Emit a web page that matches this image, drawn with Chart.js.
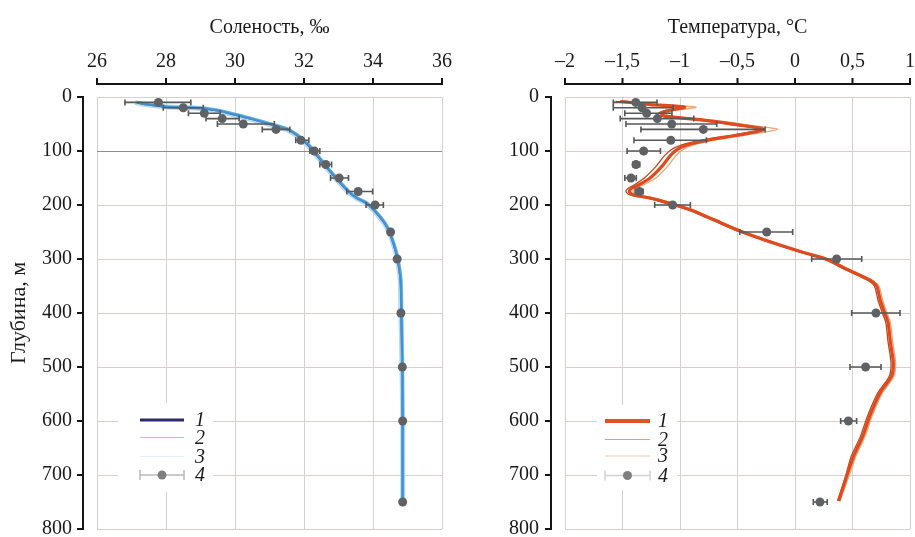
<!DOCTYPE html>
<html lang="ru">
<head>
<meta charset="utf-8">
<script src="https://cdn.jsdelivr.net/npm/chart.js@4.4.1/dist/chart.umd.min.js"></script>
<style>
    html, body { margin: 0; padding: 0; background: #fff; }
    body { width: 915px; height: 537px; position: relative; overflow: hidden; }
    #salChart { position: absolute; left: 0; top: 0; }
    #tempChart { position: absolute; left: 465px; top: 0; }
</style>
</head>
<body>
<canvas id="salChart" width="460" height="541"></canvas>
<canvas id="tempChart" width="450" height="541"></canvas>
<script>
// salinity, model profiles 1-3
const salLineDepth = [10, 13, 15, 18, 20, 22, 25, 32, 41, 51, 61, 72, 77, 96, 123, 151, 176, 188, 197, 222, 246, 277, 299, 339, 400, 500, 600, 750];
const salLine1 = [27.15, 27.35, 27.6, 28.0, 28.7, 29.2, 29.5, 29.95, 30.5, 31.05, 31.55, 31.82, 31.92, 32.22, 32.56, 32.94, 33.3, 33.55, 33.82, 34.2, 34.45, 34.62, 34.71, 34.8, 34.82, 34.85, 34.86, 34.86];
const salLine2 = [27.2, 27.4, 27.65, 28.05, 28.75, 29.25, 29.55, 30.0, 30.55, 31.1, 31.58, 31.85, 31.95, 32.25, 32.58, 32.96, 33.32, 33.57, 33.84, 34.22, 34.46, 34.63, 34.72, 34.81, 34.83, 34.85, 34.86, 34.86];
const salLine3 = [27.1, 27.3, 27.55, 27.95, 28.65, 29.15, 29.45, 29.9, 30.45, 31.0, 31.52, 31.8, 31.9, 32.2, 32.54, 32.92, 33.28, 33.53, 33.8, 34.18, 34.44, 34.61, 34.7, 34.79, 34.81, 34.84, 34.86, 34.86];

// salinity, observations 4 (mean and spread)
const salObsDepth = [10, 20, 30, 40, 50, 60, 80, 100, 125, 150, 175, 200, 250, 300, 400, 500, 600, 750];
const salObs = [27.78, 28.5, 29.11, 29.63, 30.24, 31.19, 31.91, 32.3, 32.63, 33.02, 33.57, 34.06, 34.51, 34.7, 34.81, 34.85, 34.86, 34.86];
const salObsLow = [26.81, 27.92, 28.65, 29.16, 29.49, 30.79, 31.76, 32.17, 32.46, 32.77, 33.24, 33.8, 34.51, 34.7, 34.81, 34.85, 34.86, 34.86];
const salObsHigh = [28.72, 29.08, 29.57, 30.12, 31.14, 31.59, 32.14, 32.46, 32.8, 33.29, 33.99, 34.3, 34.51, 34.7, 34.81, 34.85, 34.86, 34.86];

// temperature, model profiles 1-3
const tempLineDepth = [8, 14, 19, 26, 32, 36, 42, 52, 60, 70, 79, 89, 98, 110, 129, 150, 163, 169, 175, 181, 187, 197, 209, 227, 248, 270, 289, 300, 319, 338, 350, 375, 400, 418, 455, 492, 517, 548, 591, 628, 665, 702, 748];
const tempLine1 = [-1.52, -1.26, -0.96, -1.12, -1.16, -1.12, -0.83, -0.48, -0.27, -0.48, -0.74, -0.94, -1.03, -1.09, -1.16, -1.26, -1.36, -1.42, -1.44, -1.41, -1.26, -1.09, -0.91, -0.71, -0.48, -0.19, 0.09, 0.27, 0.45, 0.64, 0.71, 0.74, 0.78, 0.81, 0.83, 0.855, 0.84, 0.74, 0.65, 0.59, 0.51, 0.45, 0.38];
const tempLine2 = [-1.56, -1.3, -1.0, -1.15, -1.2, -1.16, -0.88, -0.53, -0.31, -0.53, -0.79, -0.99, -1.08, -1.14, -1.21, -1.31, -1.4, -1.45, -1.47, -1.44, -1.3, -1.12, -0.93, -0.73, -0.5, -0.21, 0.07, 0.25, 0.43, 0.62, 0.69, 0.72, 0.76, 0.79, 0.81, 0.835, 0.82, 0.72, 0.63, 0.57, 0.49, 0.44, 0.37];
const tempLine3 = [-1.48, -1.2, -0.86, -1.08, -1.12, -1.07, -0.76, -0.4, -0.15, -0.42, -0.68, -0.89, -0.98, -1.04, -1.11, -1.21, -1.32, -1.39, -1.41, -1.38, -1.22, -1.06, -0.89, -0.69, -0.46, -0.17, 0.11, 0.29, 0.47, 0.66, 0.73, 0.76, 0.8, 0.83, 0.85, 0.875, 0.86, 0.76, 0.67, 0.61, 0.53, 0.47, 0.39];

// temperature, observations 4
const tempObsDepth = [10, 20, 30, 40, 50, 60, 80, 100, 125, 150, 175, 200, 250, 300, 400, 500, 600, 750];
const tempObs = [-1.385, -1.33, -1.29, -1.197, -1.072, -0.797, -1.08, -1.316, -1.383, -1.426, -1.354, -1.064, -0.246, 0.362, 0.704, 0.614, 0.464, 0.217];
const tempObsLow = [-1.58, -1.58, -1.48, -1.52, -1.47, -1.34, -1.4, -1.46, -1.41, -1.48, -1.39, -1.22, -0.48, 0.145, 0.493, 0.478, 0.397, 0.159];
const tempObsHigh = [-1.2, -1.06, -1.07, -0.88, -0.68, -0.26, -0.77, -1.17, -1.35, -1.38, -1.32, -0.91, -0.02, 0.58, 0.913, 0.748, 0.536, 0.28];

const serif = "'Liberation Serif', 'Times New Roman', serif";
const gridColor = "#d6d0cc";

function points(xs, ys) {
    return xs.map((x, i) => ({ x: x, y: ys[i] }));
}

function commaLabel(value) {
    return String(Math.round(value * 10) / 10).replace(".", ",").replace("-", "\u2013");
}

// offset axis lines (drawn apart from the plot, as in the figure)
const frameAxes = {
    id: "frameAxes",
    afterDraw(chart) {
        const ctx = chart.ctx;
        const xs = chart.scales.x;
        const ys = chart.scales.y;
        const area = chart.chartArea;
        ctx.save();
        ctx.strokeStyle = "#151515";
        ctx.lineWidth = 2;
        const ax = area.top - 13;
        ctx.beginPath();
        ctx.moveTo(xs.getPixelForValue(xs.min), ax);
        ctx.lineTo(xs.getPixelForValue(xs.max), ax);
        xs.ticks.forEach(t => {
            const px = xs.getPixelForValue(t.value);
            ctx.moveTo(px, ax + 1);
            ctx.lineTo(px, ax - 6);
        });
        const ay = area.left - 14;
        ctx.moveTo(ay, ys.getPixelForValue(ys.min));
        ctx.lineTo(ay, ys.getPixelForValue(ys.max));
        ys.ticks.forEach(t => {
            const py = ys.getPixelForValue(t.value);
            ctx.moveTo(ay + 1, py);
            ctx.lineTo(ay - 6, py);
        });
        ctx.stroke();
        ctx.restore();
    }
};

// horizontal error bars under the observation dots (dataset 0)
const errorBars = {
    id: "errorBars",
    beforeDatasetDraw(chart, args) {
        if (args.index !== 0) {
            return;
        }
        const ds = chart.data.datasets[0];
        const ctx = chart.ctx;
        const xs = chart.scales.x;
        const ys = chart.scales.y;
        ctx.save();
        ctx.strokeStyle = "#575757";
        ctx.lineWidth = 1.6;
        ds.data.forEach((p, i) => {
            const lo = xs.getPixelForValue(ds.errLow[i]);
            const hi = xs.getPixelForValue(ds.errHigh[i]);
            if (hi - lo < 2) {
                return;
            }
            const py = ys.getPixelForValue(p.y);
            ctx.beginPath();
            ctx.moveTo(lo, py);
            ctx.lineTo(hi, py);
            ctx.moveTo(lo, py - 3);
            ctx.lineTo(lo, py + 3);
            ctx.moveTo(hi, py - 3);
            ctx.lineTo(hi, py + 3);
            ctx.stroke();
        });
        ctx.restore();
    }
};

// legend box inside the plot
const boxLegend = {
    id: "boxLegend",
    afterDraw(chart, args, opts) {
        const ctx = chart.ctx;
        const a = chart.chartArea;
        const b = opts.box;
        ctx.save();
        ctx.fillStyle = "#ffffff";
        ctx.fillRect(a.left + b[0], a.top + b[1], b[2], b[3]);
        ctx.font = "italic 20px " + serif;
        ctx.textBaseline = "middle";
        opts.items.forEach(item => {
            const y = a.top + item.y;
            const x0 = a.left + opts.lineX[0];
            const x1 = a.left + opts.lineX[1];
            if (item.bar) {
                ctx.strokeStyle = item.bar;
                ctx.lineWidth = 1.5;
                ctx.beginPath();
                ctx.moveTo(x0, y);
                ctx.lineTo(x1, y);
                ctx.moveTo(x0, y - 5);
                ctx.lineTo(x0, y + 5);
                ctx.moveTo(x1, y - 5);
                ctx.lineTo(x1, y + 5);
                ctx.stroke();
                ctx.fillStyle = item.color;
                ctx.beginPath();
                ctx.arc((x0 + x1) / 2, y, 4.5, 0, Math.PI * 2);
                ctx.fill();
            } else {
                ctx.strokeStyle = item.color;
                ctx.lineWidth = item.width;
                ctx.beginPath();
                ctx.moveTo(x0, y);
                ctx.lineTo(x1, y);
                ctx.stroke();
            }
            ctx.fillStyle = "#1a1a1a";
            ctx.fillText(item.label, a.left + opts.textX, y + 1);
        });
        ctx.restore();
    }
};

// tick marks are kept invisible; their length only places the labels
function depthScale(withTitle, width, gap) {
    return {
        type: "linear",
        reverse: true,
        min: 0,
        max: 800,
        ticks: { stepSize: 100, padding: 0, color: "#1a1a1a", font: { family: serif, size: 20 } },
        grid: {
            color: ctx => (withTitle && ctx.tick && ctx.tick.value === 100) ? "#8f8f8f" : gridColor,
            drawTicks: true,
            tickLength: gap,
            tickColor: "rgba(0,0,0,0)"
        },
        border: { display: false },
        title: {
            display: withTitle,
            text: "Глубина, м",
            color: "#1a1a1a",
            font: { family: serif, size: 22 },
            padding: { top: 6, bottom: 0 }
        },
        afterFit: s => { s.width = width; }
    };
}

function valueScale(min, max, step, title) {
    return {
        type: "linear",
        position: "top",
        min: min,
        max: max,
        ticks: {
            stepSize: step,
            padding: 0,
            color: "#1a1a1a",
            font: { family: serif, size: 20 },
            callback: v => commaLabel(v)
        },
        grid: { color: gridColor, drawTicks: true, tickLength: 23, tickColor: "rgba(0,0,0,0)" },
        border: { display: false },
        title: {
            display: true,
            text: title,
            color: "#1a1a1a",
            font: { family: serif, size: 20 },
            padding: { top: 16, bottom: 0 }
        },
        afterFit: s => { s.height = 97; }
    };
}

function obsDataset(xs, ys, lo, hi) {
    return {
        type: "scatter",
        data: points(xs, ys),
        errLow: lo,
        errHigh: hi,
        pointRadius: 4.5,
        pointBackgroundColor: "#5f6264",
        pointBorderWidth: 0,
        showLine: false
    };
}

function lineDataset(xs, ys, color, width) {
    return {
        type: "line",
        data: points(xs, ys),
        borderColor: color,
        borderWidth: width,
        pointRadius: 0,
        tension: 0.25,
        fill: false
    };
}

Chart.defaults.font.family = serif;
Chart.defaults.animation = false;

new Chart(document.getElementById("salChart").getContext("2d"), {
    type: "line",
    data: {
        datasets: [
            obsDataset(salObs, salObsDepth, salObsLow, salObsHigh),
            lineDataset(salLine2, salLineDepth, "rgba(74, 162, 222, 0.85)", 3),
            lineDataset(salLine1, salLineDepth, "#2c2f70", 2),
            lineDataset(salLine3, salLineDepth, "#b9d9ef", 5)
        ]
    },
    options: {
        responsive: false,
        layout: { padding: { top: 0, left: 0, right: 18, bottom: 0 } },
        scales: {
            x: valueScale(26, 36, 2, "Соленость, ‰"),
            y: depthScale(true, 97, 25)
        },
        plugins: {
            legend: { display: false },
            tooltip: { enabled: false },
            boxLegend: {
                box: [21, 306, 95, 89],
                lineX: [43, 87],
                textX: 98,
                items: [
                    { label: "1", color: "#2b2a6b", width: 3 },
                    { label: "2", color: "#a9c8d8", width: 1 },
                    { label: "3", color: "#e2eef5", width: 1 },
                    { label: "4", color: "#7d8082", bar: "#b9b9b9" }
                ].map((it, i) => Object.assign(it, { y: [323, 340.5, 359.5, 378][i] }))
            }
        }
    },
    plugins: [errorBars, frameAxes, boxLegend]
});

new Chart(document.getElementById("tempChart").getContext("2d"), {
    type: "line",
    data: {
        datasets: [
            obsDataset(tempObs, tempObsDepth, tempObsLow, tempObsHigh),
            lineDataset(tempLine1, tempLineDepth, "#df4a1f", 3.2),
            lineDataset(tempLine2, tempLineDepth, "#b44a22", 1.3),
            lineDataset(tempLine3, tempLineDepth, "#eea472", 1.3)
        ]
    },
    options: {
        responsive: false,
        layout: { padding: { top: 0, left: 0, right: 5, bottom: 0 } },
        scales: {
            x: valueScale(-2, 1, 0.5, "Температура, °C"),
            y: depthScale(false, 100, 26)
        },
        plugins: {
            legend: { display: false },
            tooltip: { enabled: false },
            boxLegend: {
                box: [32, 308, 80, 85],
                lineX: [40, 85],
                textX: 93,
                items: [
                    { label: "1", color: "#e2512a", width: 4 },
                    { label: "2", color: "#eb9a68", width: 1 },
                    { label: "3", color: "#f3c9a9", width: 1 },
                    { label: "4", color: "#7d8082", bar: "#d2d2d2" }
                ].map((it, i) => Object.assign(it, { y: [324, 342.5, 359, 378.5][i] }))
            }
        }
    },
    plugins: [errorBars, frameAxes, boxLegend]
});
</script>
</body>
</html>
